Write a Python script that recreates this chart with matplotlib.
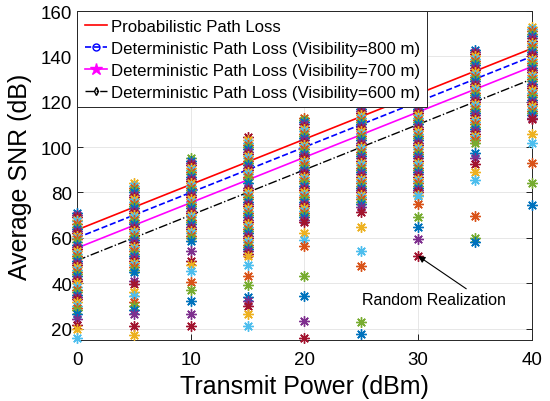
import matplotlib
matplotlib.use("Agg")
import matplotlib.pyplot as plt
from matplotlib.lines import Line2D

plt.rcParams['font.family'] = ['Liberation Sans', 'DejaVu Sans']

# transmit power values (dBm)
tx_power = [0, 5, 10, 15, 20, 25, 30, 35, 40]

# path loss curves (average SNR, dB)
snr_prob = [63.5, 73.5, 83.5, 93.5, 103.5, 113.5, 123.5, 133.5, 143.5]
snr_det800 = [60, 70, 80, 90, 100, 110, 120, 130, 140]
snr_det700 = [55.5, 65.5, 75.5, 85.5, 95.5, 105.5, 115.5, 125.5, 135.5]
snr_det600 = [50, 60, 70, 80, 90, 100, 110, 120, 130]

# random realizations, one list per transmit power
snr_p0 = [71, 70, 69, 68, 67.5, 66, 65, 64, 63, 62, 61, 60, 59.5, 58, 57, 56, 55, 54, 53,
          52, 51, 50, 49, 48, 47, 46, 45, 44, 43, 42, 41, 40, 38.5, 37, 36, 35, 34, 33,
          31.5, 30, 29, 28, 26.5, 24, 21.5, 20, 16]
snr_p5 = [84, 83, 82, 81, 80, 79, 78, 77, 76, 75, 74, 73, 72, 71, 70, 69, 68, 67, 66, 65,
          64, 63, 62, 61, 60, 59, 58, 57, 56, 55, 54, 53, 52, 51, 50, 49, 48, 47, 46, 45,
          41, 39.5, 36, 34.5, 31.5, 30, 28, 26.5, 21, 17]
snr_p10 = [95, 94, 93, 92, 91, 90, 89, 88, 87, 86, 85, 84, 83, 82, 81, 80, 79, 78, 77, 76,
           75, 74, 73, 72, 71, 70, 69, 68, 67, 66, 65, 64, 63, 62, 61, 60, 58.5, 54, 50,
           48, 45.5, 40.5, 37, 32, 26.5, 21]
snr_p15 = [104.5, 103, 102, 101, 100, 99, 98, 97, 96, 95, 94, 93, 92, 91, 90, 89, 88, 87,
           86, 84, 82, 81, 80, 79, 78, 77, 76, 75, 74, 73, 72, 71, 70, 69, 68, 67, 66, 65,
           64, 63, 62, 61, 60, 59, 58, 57, 56, 55, 54, 53, 52, 48, 43, 39, 34, 32, 30,
           26.5, 21]
snr_p20 = [113, 112, 111, 110, 109, 108, 107, 106, 105, 104, 103, 102, 101, 100, 99, 98,
           97, 96, 95, 94, 93, 92, 91, 90, 89, 88, 87, 86, 85, 84, 83, 82, 81, 80, 79, 78,
           77, 76, 75, 74, 73, 72, 71, 70, 69, 68, 67, 62, 59, 56.5, 43, 34.5, 23.5, 16]
snr_p25 = [123, 122, 121, 120, 119, 118, 117, 116, 115, 114, 113, 112, 111, 110, 109, 108,
           107, 106, 105, 104, 103, 102, 101, 100, 99, 98, 97, 96, 95, 94, 93, 92, 91, 90,
           89, 88, 87, 86, 85, 84, 83, 82, 81, 80, 79, 78, 77, 76, 75, 73.5, 71.5, 65, 54,
           47.5, 23, 17.5]
snr_p30 = [131, 129, 127, 125, 123, 122, 121, 120, 119, 118, 117, 116, 115, 114, 113, 112,
           111, 110, 109, 108, 107, 106, 105, 104, 103, 102, 101, 100, 99, 98, 97, 96, 95,
           94, 93, 92, 91, 90, 89, 88, 87, 86, 85, 84, 83, 82, 81, 80, 79, 78.5, 75, 69, 65,
           59.5, 52]
snr_p35 = [143, 142, 141, 140, 139, 138, 137, 136, 135, 134, 133, 132, 131, 130, 129, 128,
           127, 126, 125, 124, 123, 122, 121, 120, 119, 118, 117, 116, 115, 114, 113, 112,
           111, 110, 109, 108, 107, 106, 105, 104, 103, 102, 97.5, 95, 92.5, 89, 85.5, 69.5,
           60, 58]
snr_p40 = [153, 152, 151, 150, 149, 148, 147, 146, 145, 144, 143, 142, 141, 140, 139, 138,
           137, 136, 135, 134, 133, 132, 131, 130, 129, 128, 127, 126, 125, 124, 123, 122,
           121, 120, 119, 118, 117, 116, 115, 114, 113, 112.5, 106, 102, 93, 84, 74.5]

realizations = [snr_p0, snr_p5, snr_p10, snr_p15, snr_p20, snr_p25, snr_p30, snr_p35, snr_p40]

# matlab default color order
mcolors = ['#0072BD', '#D95319', '#EDB120', '#7E2F8E', '#77AC30', '#4DBEEE', '#A2142F']

fig = plt.figure(figsize=(5.5, 4.02), dpi=100)
ax = fig.add_axes([0.14, 0.152, 0.827, 0.818])

# lines first (markers end up under the scatter)
ax.plot(tx_power, snr_prob, color='red', lw=1.2, zorder=2)
ax.plot(tx_power, snr_det800, color='blue', ls='--', lw=1.2, marker='o', ms=5,
        mfc='none', zorder=2)
ax.plot(tx_power, snr_det700, color='magenta', lw=1.2, marker='*', ms=8, zorder=2)
ax.plot(tx_power, snr_det600, color='black', ls='-.', lw=1.0, marker='d', ms=4,
        mfc='none', zorder=2)

for j, (p, vals) in enumerate(zip(tx_power, realizations)):
    for i, v in enumerate(vals):
        c = mcolors[(i * 3 + j * 2) % 7]
        ax.plot(p, v, ls='none', marker=(8, 2, 0), ms=7.5, mew=1.0, color=c, zorder=3,
                clip_on=False)

ax.set_xlim(0, 40)
ax.set_ylim(15, 160)
ax.set_xticks([0, 10, 20, 30, 40])
ax.set_yticks(range(20, 161, 20))
ax.grid(True, color='#e3e3e3', lw=0.6)
ax.set_axisbelow(True)
ax.tick_params(direction='in', top=True, right=True, labelsize=13.5, length=4,
               width=0.6)
ax.tick_params(axis='x', pad=8)
ax.tick_params(axis='y', pad=3.5)
for s in ax.spines.values():
    s.set_linewidth(0.7)
    s.set_color('#262626')
ax.set_xlabel('Transmit Power (dBm)', fontsize=18, labelpad=4)
ax.set_ylabel('Average SNR (dB)', fontsize=18, labelpad=6)

ax.annotate('Random Realization', xy=(30, 52), xytext=(25.1, 33),
            fontsize=11.5, ha='left', va='center', zorder=6,
            arrowprops=dict(arrowstyle='-|>', color='black', lw=0.8,
                            mutation_scale=10, shrinkA=0, shrinkB=0,
                            relpos=(0.75, 1.0)))

handles = [
    Line2D([], [], color='red', lw=1.2),
    Line2D([], [], color='blue', ls='--', lw=1.2, marker='o', ms=5, mfc='none'),
    Line2D([], [], color='magenta', lw=1.2, marker='*', ms=9),
    Line2D([], [], color='black', ls='-.', lw=1.0, marker='d', ms=4, mfc='none'),
]
labels = ['Probabilistic Path Loss',
          'Deterministic Path Loss (Visibility=800 m)',
          'Deterministic Path Loss (Visibility=700 m)',
          'Deterministic Path Loss (Visibility=600 m)']
leg = ax.legend(handles, labels, loc='upper left', borderaxespad=0, fontsize=12.1,
                fancybox=False, framealpha=1, edgecolor='#262626', handlelength=1.35,
                handletextpad=0.2, labelspacing=0.42, borderpad=0.45)
leg.get_frame().set_linewidth(0.7)
leg.set_zorder(10)

fig.savefig('out.png', dpi=100)
